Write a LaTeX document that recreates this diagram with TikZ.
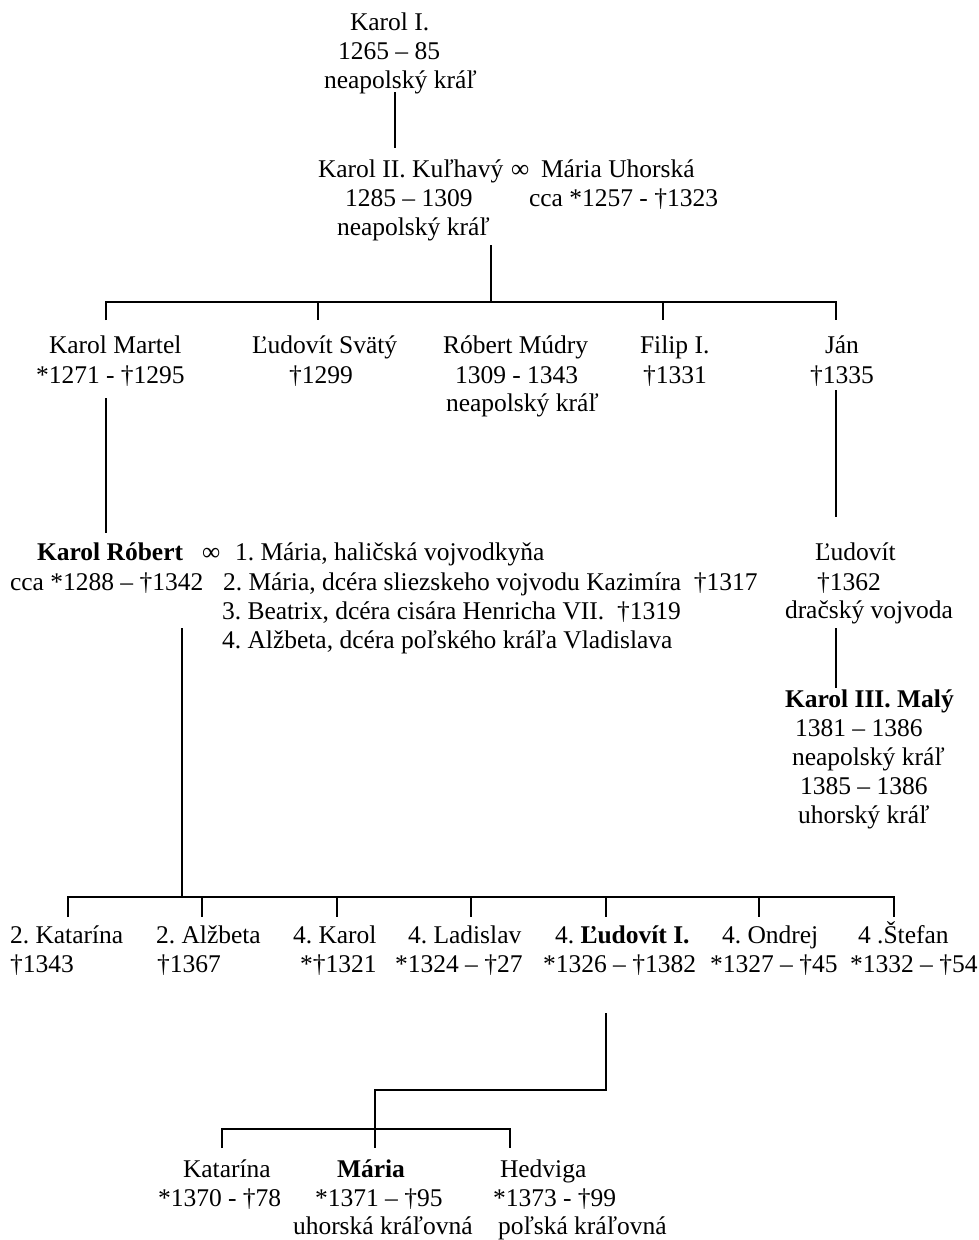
\documentclass[tikz,border=0pt]{standalone}
\usepackage{fontspec}
\setmainfont{Liberation Serif}
\frenchspacing
\begin{document}
\begin{tikzpicture}[x=1pt,y=-1pt,
  txt/.style={anchor=base west, inner sep=0pt, outer sep=0pt, text height=19pt, text depth=6pt, font=\fontsize{25.5}{29.3}\selectfont\frenchspacing},
  ln/.style={line width=1.2pt, line join=miter}]
\useasboundingbox (0,0) rectangle (978,1240);
% --- Karol I.
\node[txt] (k1a) at (350,30) {Karol I.};
\node[txt] (k1b) at (338,59) {1265 – 85};
\node[txt] (k1c) at (324,88) {neapolský kráľ};
% --- Karol II.
\node[txt] (k2a) at (318,177) {Karol II. Kuľhavý};
\node[txt] (inf1) at (511,177) {∞};
\node[txt] (mu1) at (541,177) {Mária Uhorská};
\node[txt] (k2b) at (345,206) {1285 – 1309};
\node[txt] (mu2) at (529,206) {cca *1257 - †1323};
\node[txt] (k2c) at (337,235) {neapolský kráľ};
% --- children of Karol II.
\node[txt] (km1) at (49,353) {Karol Martel};
\node[txt] (km2) at (36,383) {*1271 - †1295};
\node[txt] (ls1) at (252,353) {Ľudovít Svätý};
\node[txt] (ls2) at (289,383) {†1299};
\node[txt] (rm1) at (443,353) {Róbert Múdry};
\node[txt] (rm2) at (455,383) {1309 - 1343};
\node[txt] (rm3) at (446,411) {neapolský kráľ};
\node[txt] (fi1) at (640,353) {Filip I.};
\node[txt] (fi2) at (643,383) {†1331};
\node[txt] (ja1) at (825,353) {Ján};
\node[txt] (ja2) at (810,383) {†1335};
% --- Karol Róbert
\node[txt] (kr1) at (37,560) {\bfseries Karol Róbert};
\node[txt] (inf2) at (202,560) {∞};
\node[txt] (w1) at (235,560) {1. Mária, haličská vojvodkyňa};
\node[txt] (kr2) at (10,590) {cca *1288 – †1342};
\node[txt] (w2) at (223,590) {2. Mária, dcéra sliezskeho vojvodu Kazimíra~~†1317};
\node[txt] (w3) at (222,619) {3. Beatrix, dcéra cisára Henricha VII.~~†1319};
\node[txt] (w4) at (222,648) {4. Alžbeta, dcéra poľského kráľa Vladislava};
% --- Ľudovít
\node[txt] (lu1) at (815,560) {Ľudovít};
\node[txt] (lu2) at (817,590) {†1362};
\node[txt] (lu3) at (785,618) {dračský vojvoda};
% --- Karol III.
\node[txt] (k3a) at (785,707) {\bfseries Karol III. Malý};
\node[txt] (k3b) at (795,736) {1381 – 1386};
\node[txt] (k3c) at (792,765) {neapolský kráľ};
\node[txt] (k3d) at (800,794) {1385 – 1386};
\node[txt] (k3e) at (798,823) {uhorský kráľ};
% --- children of Karol Róbert
\node[txt] (c1a) at (10,943) {2. Katarína};
\node[txt] (c1b) at (10,972) {†1343};
\node[txt] (c2a) at (156,943) {2. Alžbeta};
\node[txt] (c2b) at (157,972) {†1367};
\node[txt] (c3a) at (293,943) {4. Karol};
\node[txt] (c3b) at (300,972) {*†1321};
\node[txt] (c4a) at (408,943) {4. Ladislav};
\node[txt] (c4b) at (395,972) {*1324 – †27};
\node[txt] (c5a) at (555,943) {4. \textbf{Ľudovít I.}};
\node[txt] (c5b) at (543,972) {*1326 – †1382};
\node[txt] (c6a) at (722,943) {4. Ondrej};
\node[txt] (c6b) at (710,972) {*1327 – †45};
\node[txt] (c7a) at (858,943) {4 .Štefan};
\node[txt] (c7b) at (850,972) {*1332 – †54};
% --- children of Ľudovít I.
\node[txt] (d1a) at (183,1177) {Katarína};
\node[txt] (d1b) at (158,1206) {*1370 - †78};
\node[txt] (d2a) at (337,1177) {\bfseries Mária};
\node[txt] (d2b) at (315,1206) {*1371 – †95};
\node[txt, text depth=2pt] (d2c) at (293,1234) {uhorská kráľovná};
\node[txt] (d3a) at (500,1177) {Hedviga};
\node[txt] (d3b) at (493,1206) {*1373 - †99};
\node[txt, text depth=2pt] (d3c) at (498,1234) {poľská kráľovná};

% --- connectors
\coordinate (j1) at (395,0);
\draw[ln, shorten <=-2pt, shorten >=10pt] (k1c.south -| j1) -- (k2a.north -| j1);

\coordinate (b1) at (491,302);
\coordinate (b1l) at (106,302);
\coordinate (b1r) at (836,302);
\coordinate (t12) at (318,302);
\coordinate (t14) at (663,302);
\draw[ln, shorten <=4pt] (k2c.south -| b1) -- (b1);
\draw[ln, shorten <=14pt, shorten >=14pt] (b1l |- km1.north) -- (b1l) -- (b1r) -- (b1r |- ja1.north);
\draw[ln, shorten >=14pt] (t12) -- (t12 |- ls1.north);
\draw[ln, shorten >=14pt] (t14) -- (t14 |- fi1.north);

\draw[ln, shorten <=9pt, shorten >=8pt] (km2.south -| b1l) -- (kr1.north -| b1l);
\draw[ln, shorten <=1pt, shorten >=24pt] (ja2.south -| b1r) -- (lu1.north -| b1r);
\draw[ln, shorten <=4pt] (lu3.south -| b1r) -- (k3a.north -| b1r);

\coordinate (b2) at (182,897);
\coordinate (b2l) at (68,897);
\coordinate (b2r) at (894,897);
\coordinate (t22) at (202,897);
\coordinate (t23) at (337,897);
\coordinate (t24) at (471,897);
\coordinate (t25) at (606,897);
\coordinate (t26) at (759,897);
\draw[ln, shorten <=32pt] (kr2.south -| b2) -- (b2);
\draw[ln, shorten <=7pt, shorten >=7pt] (b2l |- c1a.north) -- (b2l) -- (b2r) -- (b2r |- c7a.north);
\draw[ln, shorten >=7pt] (t22) -- (t22 |- c2a.north);
\draw[ln, shorten >=7pt] (t23) -- (t23 |- c3a.north);
\draw[ln, shorten >=7pt] (t24) -- (t24 |- c4a.north);
\draw[ln, shorten >=7pt] (t25) -- (t25 |- c5a.north);
\draw[ln, shorten >=7pt] (t26) -- (t26 |- c6a.north);

\coordinate (e1) at (606,1090);
\coordinate (e2) at (375,1090);
\coordinate (b3l) at (222,1129);
\coordinate (b3r) at (510,1129);
\draw[ln, shorten <=35pt, shorten >=10pt] (c5b.south -| e1) -- (e1) -- (e2) -- (e2 |- d2a.north);
\draw[ln, shorten <=10pt, shorten >=10pt] (b3l |- d1a.north) -- (b3l) -- (b3r) -- (b3r |- d3a.north);
\end{tikzpicture}
\end{document}
